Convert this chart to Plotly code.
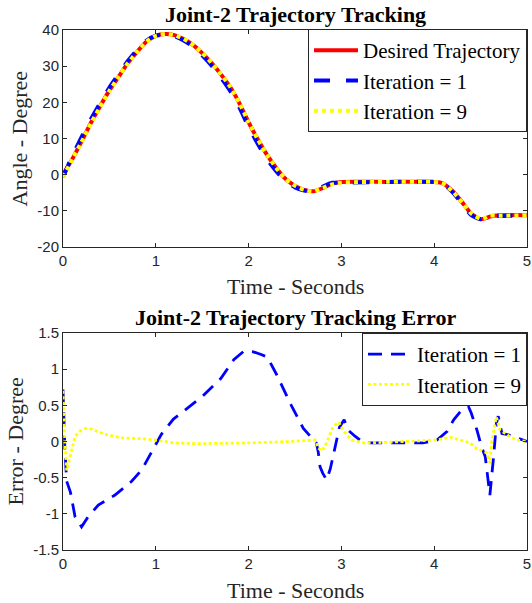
import plotly.graph_objects as go

W, H = 532, 603

# ---------------- data ----------------
# Top panel: joint angle (degree) vs time (s)
t_top = [0, 0.1, 0.2, 0.3, 0.4, 0.5, 0.6, 0.7, 0.8, 0.9, 1.0, 1.1, 1.2, 1.3, 1.4,
         1.5, 1.6, 1.7, 1.8, 1.9, 2.0, 2.1, 2.2, 2.3, 2.4, 2.5, 2.6, 2.7, 2.8, 2.9,
         3.0, 3.5, 4.0, 4.05, 4.1, 4.2, 4.3, 4.4, 4.5, 4.55, 4.6, 4.7, 5.0]
desired = [0, 4.3, 9.2, 14.3, 18.9, 23.3, 27.1, 30.9, 34.0, 36.8, 38.4, 38.9, 38.6, 37.5, 35.9,
           33.6, 30.9, 27.8, 24.3, 19.8, 14.5, 9.7, 5.4, 1.8, -1.2, -3.1, -4.2, -4.6, -3.7, -2.5,
           -2.0, -2.0, -2.0, -2.1, -2.5, -4.6, -7.6, -10.8, -12.3, -12.1, -11.6, -11.2, -11.2]
iter1_angle = [-0.7, 5.15, 10.4, 15.3, 19.8, 24.1, 27.8, 31.5, 34.5, 37.1, 38.45, 38.7, 38.3, 37.1, 35.4,
               33.0, 30.2, 26.9, 23.2, 18.6, 13.25, 8.5, 4.2, 0.9, -1.85, -3.5, -4.4, -4.6, -3.3, -2.25,
               -2.25, -2.0, -2.0, -2.1, -2.6, -4.9, -8.0, -11.2, -12.3, -11.9, -11.2, -11.4, -11.2]
iter9_angle = [-0.7, 4.3, 9.05, 14.13, 18.77, 23.22, 27.05, 30.86, 33.96, 36.77, 38.39, 38.9, 38.62, 37.53, 35.93,
               33.63, 30.93, 27.82, 24.32, 19.82, 14.52, 9.72, 5.42, 1.8, -1.2, -3.1, -4.2, -4.62, -3.62, -2.7,
               -2.2, -1.99, -2.0, -2.12, -2.54, -4.66, -7.62, -10.78, -12.17, -11.94, -11.3, -11.36, -11.2]

# Bottom panel: tracking error (degree) vs time (s)
t_err1 = [0, 0.02, 0.04, 0.08, 0.13, 0.2, 0.27, 0.38, 0.56, 0.74, 0.85, 0.95, 1.06, 1.19, 1.3,
          1.5, 1.7, 1.84, 1.95, 2.05, 2.12, 2.2, 2.3, 2.46, 2.59, 2.66, 2.73, 2.75, 2.77, 2.8,
          2.84, 2.88, 2.91, 2.95, 2.98, 3.03, 3.07, 3.15, 3.22, 3.31, 3.5, 3.7, 3.88, 4.03, 4.14,
          4.21, 4.28, 4.37, 4.40, 4.46, 4.51, 4.55, 4.58, 4.60, 4.64, 4.67, 4.69, 4.73, 4.78, 4.89, 5.0]
err_iter1 = [0.72, -0.1, -0.55, -0.7, -1.04, -1.18, -1.04, -0.88, -0.74, -0.55, -0.39, -0.16, 0.1, 0.31, 0.42,
             0.62, 0.87, 1.13, 1.25, 1.24, 1.21, 1.17, 0.93, 0.5, 0.18, 0.08, -0.02, -0.14, -0.35, -0.44,
             -0.53, -0.38, -0.21, 0.02, 0.2, 0.3, 0.16, 0.07, 0.0, -0.02, -0.02, -0.02, -0.02, 0.02, 0.14,
             0.3, 0.41, 0.48, 0.39, 0.16, -0.07, -0.21, -0.49, -0.74, -0.21, 0.25, 0.35, 0.11, 0.1, 0.05, 0.0]
t_err9 = [0, 0.02, 0.04, 0.075, 0.13, 0.18, 0.24, 0.31, 0.45, 0.63, 0.85, 1.06, 1.19, 1.45, 2.0,
          2.45, 2.72, 2.75, 2.79, 2.84, 2.91, 2.97, 3.02, 3.11, 3.24, 3.52, 4.03, 4.17, 4.39, 4.46,
          4.57, 4.60, 4.62, 4.67, 4.71, 4.8, 4.89, 5.0]
err_iter9 = [0.7, 0.0, -0.4, -0.2, 0.07, 0.14, 0.18, 0.17, 0.1, 0.05, 0.04, 0.01, -0.02, -0.03, -0.02,
             0.0, 0.02, -0.09, -0.13, -0.02, 0.2, 0.27, 0.15, 0.02, -0.02, -0.01, 0.02, 0.06, -0.02, -0.1,
             -0.16, -0.3, 0.0, 0.34, 0.16, 0.08, 0.02, 0.0]

x_tickvals = [0, 1, 2, 3, 4, 5]
x_ticktext = ["0", "1", "2", "3", "4", "5"]
y1_tickvals = [-20, -10, 0, 10, 20, 30, 40]
y1_ticktext = ["-20", "-10", "0", "10", "20", "30", "40"]
y2_tickvals = [-1.5, -1, -0.5, 0, 0.5, 1, 1.5]
y2_ticktext = ["-1.5", "-1", "-0.5", "0", "0.5", "1", "1.5"]

# ---------------- layout helpers ----------------
def px_x(p):
    return p / W

def px_y(p):
    return 1 - p / H

AX = "#262626"
SERIF = "Liberation Serif"
SANS = "Liberation Sans"

fig = go.Figure()

# Top panel traces
fig.add_trace(go.Scatter(x=t_top, y=desired, mode="lines", name="Desired Trajectory",
                         line=dict(color="#ff0000", width=4, shape="spline", smoothing=0.6),
                         xaxis="x", yaxis="y", legend="legend"))
fig.add_trace(go.Scatter(x=t_top, y=iter1_angle, mode="lines", name="Iteration = 1",
                         line=dict(color="#0000ff", width=4, dash="16px,16px", shape="spline", smoothing=0.6),
                         xaxis="x", yaxis="y", legend="legend"))
fig.add_trace(go.Scatter(x=t_top, y=iter9_angle, mode="lines", name="Iteration = 9",
                         line=dict(color="#ffff00", width=4, dash="4px,4px", shape="spline", smoothing=0.6),
                         xaxis="x", yaxis="y", legend="legend"))

# Bottom panel traces
fig.add_trace(go.Scatter(x=t_err1, y=err_iter1, mode="lines", name="Iteration = 1",
                         line=dict(color="#0000ff", width=2.8, dash="14px,9px"),
                         xaxis="x2", yaxis="y2", legend="legend2"))
fig.add_trace(go.Scatter(x=t_err9, y=err_iter9, mode="lines", name="Iteration = 9",
                         line=dict(color="#ffff00", width=2.8, dash="3px,2.5px"),
                         xaxis="x2", yaxis="y2", legend="legend2"))

xdom = [px_x(63), px_x(527)]
common_axis = dict(showline=True, linecolor=AX, linewidth=1, mirror="ticks",
                   ticks="inside", ticklen=4, tickcolor=AX, tickwidth=1,
                   showgrid=False, zeroline=False, automargin=False,
                   tickfont=dict(family=SANS, size=15, color=AX))

legend_common = dict(bgcolor="white", bordercolor=AX, borderwidth=1,
                     font=dict(family=SERIF, size=21, color="black"),
                     itemwidth=44, tracegroupgap=0)

fig.update_layout(
    width=W, height=H,
    margin=dict(l=0, r=0, t=0, b=0, autoexpand=False),
    paper_bgcolor="white", plot_bgcolor="white",
    xaxis=dict(domain=xdom, anchor="y", range=[0, 5], tickvals=x_tickvals, ticktext=x_ticktext, **common_axis),
    yaxis=dict(domain=[px_y(247), px_y(30)], anchor="x", range=[-20, 40],
               tickvals=y1_tickvals, ticktext=y1_ticktext, **common_axis),
    xaxis2=dict(domain=xdom, anchor="y2", range=[0, 5], tickvals=x_tickvals, ticktext=x_ticktext, **common_axis),
    yaxis2=dict(domain=[px_y(550), px_y(333)], anchor="x2", range=[-1.5, 1.5],
                tickvals=y2_tickvals, ticktext=y2_ticktext, **common_axis),
    legend=dict(x=px_x(527), xanchor="right", y=px_y(29), yanchor="top", **legend_common),
    legend2=dict(x=px_x(527), xanchor="right", y=px_y(333), yanchor="top", **legend_common),
    showlegend=True,
)

annotations = [
    dict(text="<b>Joint-2 Trajectory Tracking</b>", x=px_x(295), y=px_y(14),
         font=dict(family=SERIF, size=22, color="black")),
    dict(text="Time - Seconds", x=px_x(295), y=px_y(287),
         font=dict(family=SERIF, size=22, color=AX)),
    dict(text="Angle - Degree", x=px_x(19), y=px_y(138.5), textangle=-90,
         font=dict(family=SERIF, size=22, color=AX)),
    dict(text="<b>Joint-2 Trajectory Tracking Error</b>", x=px_x(295), y=px_y(317),
         font=dict(family=SERIF, size=22, color="black")),
    dict(text="Time - Seconds", x=px_x(295), y=px_y(590),
         font=dict(family=SERIF, size=22, color=AX)),
    dict(text="Error - Degree", x=px_x(15), y=px_y(441.5), textangle=-90,
         font=dict(family=SERIF, size=22, color=AX)),
]
for a in annotations:
    a.update(xref="paper", yref="paper", xanchor="center", yanchor="middle", showarrow=False)
fig.update_layout(annotations=annotations)

# remove the default page margin so the 532x603 figure fills the window exactly
fig.write_html("out.html", config={"displayModeBar": False},
               post_script="document.body.style.margin='0';")
